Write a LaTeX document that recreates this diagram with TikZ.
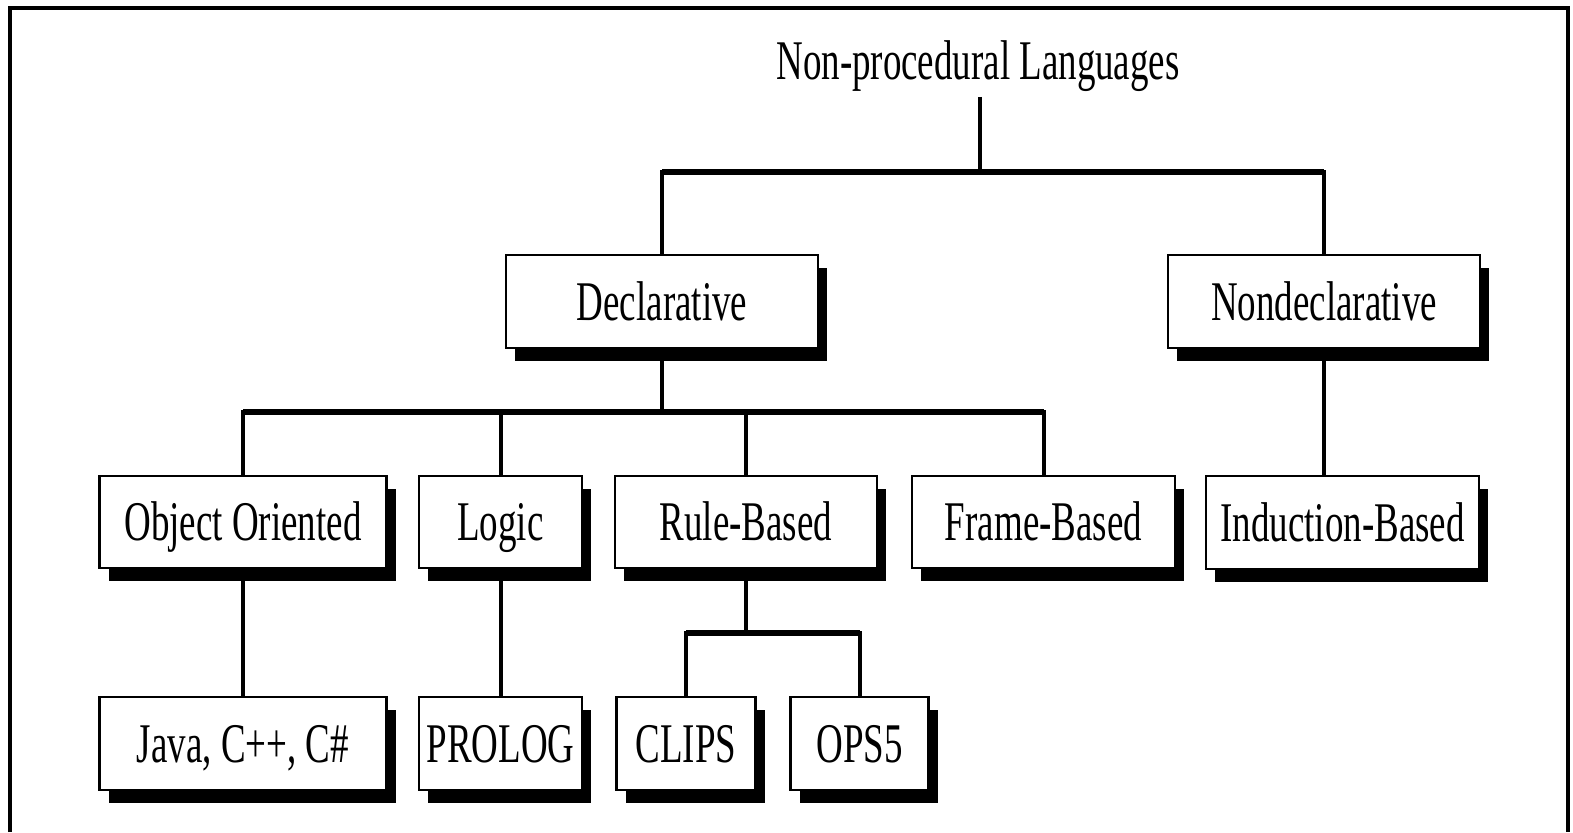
\documentclass[tikz,border=0pt]{standalone}
\usepackage{fontspec}
\setmainfont[FakeStretch=0.66]{Liberation Serif}
\usetikzlibrary{shadows}
\begin{document}
\begin{tikzpicture}[x=1pt,y=-1pt,
  lbl/.style={inner sep=0pt, text height=37pt, text depth=0pt, font=\fontsize{56}{60}\selectfont},
  box/.style={lbl, draw, line width=2.5pt, fill=white,
    general shadow={fill=black, shadow xshift=9pt, shadow yshift=-13pt}},
  conn/.style={line width=4pt, line join=miter},
  bar/.style={line width=6pt}]
\useasboundingbox (0,0) rectangle (1573,832);
% outer frame (open at the bottom)
\draw[line width=3.5pt] (10,832) -- (10,8) -- (1568,8) -- (1568,832);

% nodes
\node[lbl] (title) at (978,61) {Non-procedural Languages};
\node[box, minimum width=312pt, minimum height=93pt] (decl) at (662,301.5) {Declarative};
\node[box, minimum width=312pt, minimum height=93pt] (nondecl) at (1324,301.5) {Nondeclarative};
\node[box, minimum width=287pt, minimum height=92pt] (oo) at (243,522) {Object Oriented};
\node[box, minimum width=163pt, minimum height=92pt] (logic) at (500.5,522) {Logic};
\node[box, minimum width=262pt, minimum height=92pt] (rule) at (746,522) {Rule-Based};
\node[box, minimum width=263pt, minimum height=92pt] (frame) at (1043.5,522) {Frame-Based};
\node[box, minimum width=273pt, minimum height=93pt] (induct) at (1342.5,522.5) {Induction-Based};
\node[box, minimum width=287pt, minimum height=93pt] (java) at (243,743.5) {Java, C++, C\#};
\node[box, minimum width=163pt, minimum height=93pt] (prolog) at (500.5,743.5) {PROLOG};
\node[box, minimum width=139pt, minimum height=93pt] (clips) at (686,743.5) {CLIPS};
\node[box, minimum width=138pt, minimum height=93pt] (ops) at (859.5,743.5) {OPS5};

% junction coordinates
\coordinate (tl) at (980,97);
\coordinate (j1) at (980,172);
\coordinate (j2) at (662,412);
\coordinate (j3) at (746,633);

% top level
\draw[conn] (tl) -- (j1);
\draw[conn] (decl.north) -- (decl.north |- j1) -- (nondecl.north |- j1) -- (nondecl.north);
\draw[bar] (decl.north |- j1) -- (nondecl.north |- j1);

% declarative children
\draw[conn] (decl.south) -- (j2);
\draw[conn] (oo.north) -- (oo.north |- j2) -- (frame.north |- j2) -- (frame.north);
\draw[bar] (oo.north |- j2) -- (frame.north |- j2);
\draw[conn] (logic.north |- j2) -- (logic.north);
\draw[conn] (rule.north |- j2) -- (rule.north);

% nondeclarative child
\draw[conn] (nondecl.south) -- (nondecl.south |- induct.north);

% leaves
\draw[conn] (oo.south) -- (java.north);
\draw[conn] (logic.south) -- (prolog.north);
\draw[conn] (rule.south) -- (j3);
\draw[conn] (clips.north) -- (clips.north |- j3) -- (ops.north |- j3) -- (ops.north);
\draw[bar] (clips.north |- j3) -- (ops.north |- j3);
\end{tikzpicture}
\end{document}
